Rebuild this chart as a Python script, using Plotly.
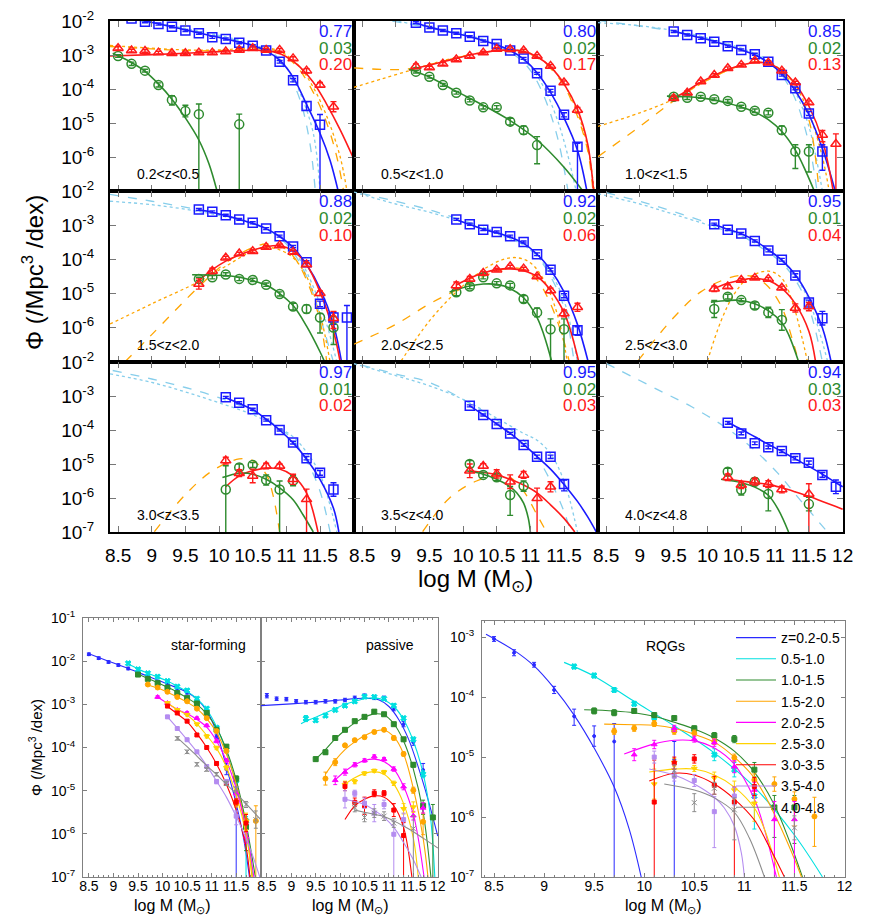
import plotly.graph_objects as go

FONT = "Liberation Sans, Arial, Helvetica, sans-serif"
W, H = 872, 922
OFF = 8                      # default page margin of the HTML body
FW, FH = W - OFF, H - OFF    # figure size so that it fills the window exactly


def px(x):
    return (x - OFF) / FW


def py(y):
    return 1 - (y - OFF) / FH


BLUE = "#1a1aff"
GREEN = "#2e8b2e"
RED = "#ff1a1a"
LBLUE = "#87ceeb"
ORANGE = "#ffa500"
Z_COLORS = ["#2a2aff", "#00e0e0", "#2e8b2e", "#ffa500", "#ff00ff", "#ffd200", "#ff0000", "#b48cf0", "#8c8c8c"]
Z_SYMBOLS = ["circle", "x", "square", "circle", "triangle-up", "triangle-down", "square", "square", "x-thin-open"]
Z_SIZES = [3, 5, 5, 5, 5, 5, 4, 4, 5]

# ======================= DATA (log10 Phi / Mpc^-3 dex^-1) =======================
# ---- panel 1 : 0.2<z<0.5 ----
sf_m_1 = [8.5, 8.7, 8.9, 9.1, 9.3, 9.5, 9.7, 9.9, 10.1, 10.3, 10.5, 10.7, 10.9, 11.1, 11.3, 11.5]
sf_1 = [-1.84, -1.93, -2.02, -2.09, -2.17, -2.28, -2.36, -2.48, -2.53, -2.64, -2.73, -2.87, -3.20, -3.74, -4.50, -5.05]
sf_e_1 = [.03, .03, .03, .03, .03, .03, .03, .03, .03, .03, .03, .03, .04, .05, .13, [.3, 5]]
q_m_1 = [8.5, 8.7, 8.9, 9.1, 9.3, 9.5, 9.7, 9.9, 10.1, 10.3, 10.5, 10.7, 10.9, 11.1, 11.3, 11.5, 11.7]
q_1 = [-2.80, -2.87, -2.88, -2.93, -2.95, -2.95, -2.93, -2.93, -2.90, -2.85, -2.80, -2.85, -2.85, -3.10, -3.46, -3.88, -4.52]
q_e_1 = [.05, .04, .04, .04, .04, .04, .04, .04, .04, .04, .04, .04, .04, .05, .06, .07, .15]
r_m_1 = [8.5, 8.7, 8.9, 9.1, 9.3, 9.5, 9.7, 10.3]
r_1 = [-3.03, -3.26, -3.46, -3.88, -4.32, -4.65, -4.74, -5.04]
r_e_1 = [.04, .05, .04, .06, [.12, .15], .17, [.3, 5], [.3, 5]]
sf_fm_1 = [8.5, 8.9, 9.3, 9.7, 10.1, 10.5, 10.7, 10.9, 11.1, 11.3, 11.5, 11.65, 11.77]
sf_f_1 = [-1.83, -2.0, -2.17, -2.35, -2.53, -2.72, -2.88, -3.15, -3.65, -4.45, -5.3, -6.1, -7.0]
q_fm_1 = [8.38, 9.0, 9.5, 10.0, 10.5, 10.8, 11.0, 11.2, 11.4, 11.6, 11.8, 12.0]
q_f_1 = [-3.03, -2.99, -2.95, -2.9, -2.86, -2.9, -3.05, -3.35, -3.8, -4.45, -5.2, -6.05]
r_fm_1 = [8.42, 8.7, 8.9, 9.1, 9.3, 9.5, 9.7, 9.85, 9.97]
r_f_1 = [-2.95, -3.22, -3.48, -3.85, -4.3, -4.85, -5.5, -6.2, -7.0]
lbd_m_1 = [8.85, 9.5, 10.0, 10.5, 10.8, 11.0, 11.2, 11.35, 11.43]
lbd_1 = [-2.0, -2.25, -2.45, -2.7, -3.0, -3.45, -4.3, -5.6, -7.0]
lbo_m_1 = [8.85, 9.5, 10.0, 10.5, 10.8, 11.0, 11.2, 11.4, 11.5]
lbo_1 = [-1.97, -2.22, -2.42, -2.68, -2.95, -3.35, -4.1, -5.3, -7.0]
ord_m_1 = [8.38, 9.0, 9.5, 10.0, 10.5, 10.8, 11.0, 11.2, 11.4, 11.6, 11.75, 11.85]
ord_1 = [-2.75, -2.82, -2.87, -2.87, -2.82, -2.85, -3.05, -3.45, -4.1, -5.0, -6.0, -7.0]
oro_m_1 = [8.38, 9.0, 9.5, 10.0, 10.5, 10.8, 11.0, 11.2, 11.4, 11.6, 11.8, 11.9]
oro_1 = [-2.72, -2.8, -2.85, -2.85, -2.8, -2.82, -3.0, -3.35, -3.95, -4.8, -6.0, -7.0]

# ---- panel 2 : 0.5<z<1.0 ----
sf_m_2 = [9.3, 9.5, 9.7, 9.9, 10.1, 10.3, 10.5, 10.7, 10.9, 11.1, 11.3, 11.5, 11.7]
sf_2 = [-2.05, -2.19, -2.28, -2.36, -2.46, -2.59, -2.68, -2.87, -3.10, -3.54, -4.05, -4.76, -5.70]
sf_e_2 = [.03, .03, .03, .03, .03, .03, .03, .03, .03, .03, .04, .06, [.1, 5]]
q_m_2 = [9.3, 9.5, 9.7, 9.9, 10.1, 10.3, 10.5, 10.7, 10.9, 11.1, 11.3, 11.5, 11.7]
q_2 = [-3.33, -3.37, -3.26, -3.13, -3.03, -2.93, -2.82, -2.83, -2.87, -3.03, -3.32, -3.81, -4.62]
q_e_2 = [.07, .04, .04, .04, .04, .04, .04, .04, .04, .04, .04, .05, .08]
r_m_2 = [9.3, 9.5, 9.7, 9.9, 10.1, 10.3, 10.5, 10.7, 10.9, 11.1]
r_2 = [-3.49, -3.64, -3.88, -4.11, -4.34, -4.54, -4.54, -4.96, -5.21, -5.65]
r_e_2 = [.04, .04, .04, .04, .04, .05, .05, .1, .12, [.25, .55]]
sf_fm_2 = [9.3, 9.5, 9.7, 9.9, 10.1, 10.3, 10.5, 10.7, 10.9, 11.1, 11.3, 11.5, 11.7, 11.84]
sf_f_2 = [-2.06, -2.18, -2.28, -2.37, -2.46, -2.58, -2.70, -2.87, -3.12, -3.52, -4.1, -4.85, -5.8, -7.0]
q_fm_2 = [9.2, 9.3, 9.5, 9.7, 9.9, 10.1, 10.3, 10.5, 10.7, 10.9, 11.1, 11.3, 11.5, 11.7, 11.85, 11.94]
q_f_2 = [-3.45, -3.39, -3.3, -3.2, -3.1, -3.0, -2.93, -2.87, -2.85, -2.9, -3.05, -3.35, -3.85, -4.6, -5.6, -7.0]
r_fm_2 = [9.2, 9.5, 9.9, 10.3, 10.7, 11.1, 11.5, 11.78]
r_f_2 = [-3.42, -3.65, -4.07, -4.48, -4.93, -5.5, -6.3, -7.0]
lbd_m_2 = [8.95, 9.5, 10.0, 10.5, 10.8, 11.0, 11.2, 11.4, 11.56]
lbd_2 = [-2.0, -2.2, -2.4, -2.72, -3.05, -3.45, -4.2, -5.4, -7.0]
lbo_m_2 = [8.95, 9.5, 10.0, 10.5, 10.8, 11.0, 11.2, 11.4, 11.55, 11.68]
lbo_2 = [-1.98, -2.18, -2.38, -2.68, -3.0, -3.35, -3.95, -4.9, -5.9, -7.0]
ord_m_2 = [8.38, 9.0, 9.3, 9.7, 10.1, 10.5, 10.7, 10.9, 11.1, 11.3, 11.5, 11.7, 11.85, 11.93]
ord_2 = [-3.38, -3.43, -3.38, -3.18, -3.0, -2.88, -2.86, -2.9, -3.08, -3.4, -3.9, -4.8, -5.8, -7.0]
oro_m_2 = [8.38, 8.8, 9.3, 9.7, 10.1, 10.5, 10.7, 10.9, 11.1, 11.3, 11.5, 11.7, 11.85, 11.95]
oro_2 = [-3.95, -3.7, -3.4, -3.17, -2.99, -2.87, -2.85, -2.88, -3.05, -3.35, -3.85, -4.7, -5.7, -7.0]

# ---- panel 3 : 1.0<z<1.5 ----
sf_m_3 = [9.5, 9.7, 9.9, 10.1, 10.3, 10.5, 10.7, 10.9, 11.1, 11.3, 11.5, 11.7]
sf_3 = [-2.31, -2.41, -2.51, -2.61, -2.74, -2.85, -2.98, -3.20, -3.59, -3.98, -4.72, -5.84]
sf_e_3 = [.03, .03, .03, .03, .03, .03, .03, .03, .03, .04, .06, [.2, .55]]
q_m_3 = [9.5, 9.7, 9.9, 10.1, 10.3, 10.5, 10.7, 10.9, 11.1, 11.3, 11.5, 11.7, 11.9]
q_3 = [-4.27, -4.11, -3.78, -3.59, -3.39, -3.29, -3.17, -3.23, -3.46, -3.81, -4.40, -5.35, -5.62]
q_e_3 = [.05, .05, .04, .04, .04, .04, .04, .04, .04, .04, .05, [.13, .2], [.3, 5]]
r_m_3 = [9.5, 9.7, 9.9, 10.1, 10.3, 10.5, 10.7, 10.9, 11.1, 11.3, 11.5]
r_3 = [-4.23, -4.26, -4.23, -4.30, -4.35, -4.52, -4.64, -4.70, -5.21, -5.84, -5.84]
r_e_3 = [.05, .05, .04, .04, .04, .04, .05, .06, .12, [.2, .5], [.2, .6]]
sf_fm_3 = [9.5, 9.7, 9.9, 10.1, 10.3, 10.5, 10.7, 10.9, 11.1, 11.3, 11.5, 11.7, 11.89]
sf_f_3 = [-2.3, -2.4, -2.5, -2.6, -2.72, -2.85, -3.0, -3.22, -3.55, -4.05, -4.75, -5.75, -7.0]
q_fm_3 = [9.5, 9.7, 9.9, 10.1, 10.3, 10.5, 10.7, 10.9, 11.1, 11.3, 11.5, 11.7, 11.86]
q_f_3 = [-4.27, -4.05, -3.8, -3.6, -3.43, -3.3, -3.22, -3.25, -3.45, -3.85, -4.5, -5.5, -7.0]
r_fm_3 = [9.4, 9.7, 9.9, 10.1, 10.3, 10.5, 10.7, 10.9, 11.1, 11.3, 11.45, 11.58]
r_f_3 = [-4.21, -4.23, -4.26, -4.32, -4.42, -4.53, -4.68, -4.9, -5.25, -5.8, -6.4, -7.0]
lbd_m_3 = [8.38, 9.0, 9.5, 10.0, 10.5, 10.9, 11.1, 11.3, 11.5, 11.62]
lbd_3 = [-1.98, -2.15, -2.3, -2.52, -2.82, -3.2, -3.6, -4.3, -5.6, -7.0]
lbo_m_3 = [8.38, 9.0, 9.5, 10.0, 10.5, 10.9, 11.1, 11.3, 11.5, 11.7]
lbo_3 = [-2.05, -2.14, -2.28, -2.5, -2.8, -3.15, -3.5, -4.1, -5.1, -7.0]
ord_m_3 = [8.38, 9.0, 9.5, 9.9, 10.3, 10.7, 10.9, 11.1, 11.3, 11.5, 11.65]
ord_3 = [-5.99, -5.1, -4.35, -3.85, -3.45, -3.2, -3.25, -3.5, -4.0, -4.9, -7.0]
oro_m_3 = [8.38, 9.0, 9.5, 9.9, 10.3, 10.7, 10.9, 11.1, 11.3, 11.5, 11.7, 11.8]
oro_3 = [-5.1, -4.7, -4.3, -3.85, -3.45, -3.22, -3.25, -3.45, -3.9, -4.7, -6.0, -7.0]

# ---- panel 4 : 1.5<z<2.0 ----
sf_m_4 = [9.7, 9.9, 10.1, 10.3, 10.5, 10.7, 10.9, 11.1, 11.3, 11.5, 11.7, 11.9]
sf_4 = [-2.54, -2.61, -2.71, -2.83, -2.93, -3.10, -3.32, -3.62, -4.08, -5.30, -5.70, -5.70]
sf_e_4 = [.03, .03, .03, .03, .03, .03, .03, .03, .04, .08, [.15, .2], [.35, 5]]
q_m_4 = [9.7, 9.9, 10.1, 10.3, 10.5, 10.7, 10.9, 11.1, 11.3, 11.5, 11.7]
q_4 = [-4.72, -4.34, -3.95, -3.83, -3.76, -3.64, -3.59, -3.78, -4.15, -4.99, -5.72]
q_e_4 = [.15, .08, .04, .04, .04, .04, .04, .05, .05, .07, [.2, .3]]
r_m_4 = [9.7, 9.9, 10.1, 10.3, 10.5, 10.7, 10.9, 11.1, 11.3, 11.5, 11.7]
r_4 = [-4.57, -4.52, -4.44, -4.57, -4.60, -4.74, -5.01, -5.38, -5.45, -5.70, -5.99]
r_e_4 = [.05, .05, .05, .05, .05, .05, .06, .1, .12, [.12, .45], [.32, .5]]
sf_fm_4 = [9.7, 9.9, 10.1, 10.3, 10.5, 10.7, 10.9, 11.1, 11.3, 11.5, 11.7, 11.82]
sf_f_4 = [-2.55, -2.62, -2.72, -2.83, -2.95, -3.1, -3.33, -3.65, -4.15, -4.85, -5.9, -7.0]
q_fm_4 = [9.7, 9.9, 10.1, 10.3, 10.5, 10.7, 10.9, 11.1, 11.3, 11.5, 11.7, 11.8]
q_f_4 = [-4.62, -4.3, -4.05, -3.87, -3.73, -3.63, -3.6, -3.75, -4.15, -4.95, -6.1, -7.0]
r_fm_4 = [9.6, 9.9, 10.1, 10.3, 10.5, 10.7, 10.9, 11.1, 11.3, 11.5, 11.57]
r_f_4 = [-4.45, -4.46, -4.47, -4.52, -4.62, -4.75, -5.0, -5.35, -5.95, -6.7, -7.0]
lbd_m_4 = [8.38, 9.0, 9.7, 10.3, 10.7, 11.0, 11.2, 11.4, 11.55, 11.7]
lbd_4 = [-2.1, -2.3, -2.55, -2.83, -3.1, -3.55, -4.1, -5.0, -6.0, -7.0]
lbo_m_4 = [8.38, 9.0, 9.7, 10.3, 10.7, 11.0, 11.2, 11.4, 11.6, 11.75]
lbo_4 = [-2.3, -2.4, -2.6, -2.85, -3.12, -3.5, -4.0, -4.8, -5.9, -7.0]
ord_m_4 = [8.6, 9.0, 9.7, 10.1, 10.5, 10.7, 10.9, 11.1, 11.3, 11.5, 11.6]
ord_4 = [-7.0, -6.2, -4.8, -4.1, -3.65, -3.55, -3.6, -3.9, -4.6, -5.8, -7.0]
oro_m_4 = [8.38, 9.0, 9.7, 10.1, 10.5, 10.7, 10.9, 11.1, 11.3, 11.5, 11.65]
oro_4 = [-5.89, -5.3, -4.65, -4.2, -3.75, -3.65, -3.72, -3.95, -4.5, -5.6, -7.0]

# ---- panel 5 : 2.0<z<2.5 ----
sf_m_5 = [9.9, 10.1, 10.3, 10.5, 10.7, 10.9, 11.1, 11.3, 11.5, 11.7]
sf_5 = [-2.83, -2.97, -3.13, -3.20, -3.32, -3.49, -3.85, -4.30, -5.06, -6.07]
sf_e_5 = [.03, .03, .03, .03, .03, .03, .04, .04, .06, [.1, .15]]
q_m_5 = [9.9, 10.1, 10.3, 10.5, 10.7, 10.9, 11.1, 11.3, 11.5, 11.7]
q_5 = [-4.76, -4.57, -4.40, -4.30, -4.21, -4.27, -4.50, -4.91, -5.58, -5.40]
q_e_5 = [.1, .07, .05, .04, .04, .04, .05, .07, .1, .12]
r_m_5 = [9.9, 10.1, 10.3, 10.5, 10.7, 10.9, 11.1, 11.3, 11.5]
r_5 = [-4.96, -4.79, -4.52, -4.70, -4.76, -5.16, -5.55, -6.04, -6.04]
r_e_5 = [.1, .07, .05, .05, .06, .1, .13, [.3, 5], [.3, 5]]
sf_fm_5 = [9.9, 10.1, 10.3, 10.5, 10.7, 10.9, 11.1, 11.3, 11.5, 11.7, 11.86]
sf_f_5 = [-2.83, -2.98, -3.12, -3.22, -3.35, -3.53, -3.85, -4.3, -4.95, -5.9, -7.0]
q_fm_5 = [9.9, 10.1, 10.3, 10.5, 10.7, 10.9, 11.1, 11.3, 11.5, 11.6, 11.72]
q_f_5 = [-4.75, -4.55, -4.4, -4.3, -4.27, -4.33, -4.5, -4.9, -5.55, -6.1, -7.0]
r_fm_5 = [9.8, 10.1, 10.3, 10.5, 10.7, 10.9, 11.1, 11.2, 11.32]
r_f_5 = [-4.95, -4.78, -4.72, -4.73, -4.85, -5.12, -5.7, -6.2, -7.0]
lbd_m_5 = [8.49, 9.0, 9.5, 9.9, 10.5, 10.9, 11.1, 11.3, 11.5, 11.65]
lbd_5 = [-2.07, -2.3, -2.55, -2.8, -3.2, -3.55, -3.9, -4.5, -5.4, -7.0]
lbo_m_5 = [8.38, 9.0, 9.5, 9.9, 10.5, 10.9, 11.1, 11.3, 11.5, 11.7]
lbo_5 = [-2.03, -2.38, -2.62, -2.85, -3.25, -3.58, -3.9, -4.4, -5.2, -7.0]
ord_m_5 = [8.38, 9.0, 9.5, 9.9, 10.3, 10.7, 10.9, 11.1, 11.3, 11.5, 11.58]
ord_5 = [-6.48, -5.9, -5.3, -4.9, -4.5, -4.25, -4.3, -4.6, -5.3, -6.4, -7.0]
oro_m_5 = [9.08, 9.5, 9.9, 10.3, 10.6, 10.8, 11.0, 11.2, 11.4, 11.55]
oro_5 = [-6.97, -5.8, -4.95, -4.3, -4.0, -3.95, -4.1, -4.6, -5.6, -7.0]

# ---- panel 6 : 2.5<z<3.0 ----
sf_m_6 = [10.1, 10.3, 10.5, 10.7, 10.9, 11.1, 11.3, 11.5, 11.7]
sf_6 = [-2.97, -3.13, -3.24, -3.46, -3.74, -4.01, -4.47, -5.26, -5.72]
sf_e_6 = [.03, .03, .03, .03, .04, .04, .05, .07, .2]
q_m_6 = [10.1, 10.3, 10.5, 10.7, 10.9, 11.1, 11.3, 11.5]
q_6 = [-4.86, -4.79, -4.60, -4.54, -4.57, -4.83, -5.42, -5.38]
q_e_6 = [.08, .05, .04, .04, .04, .05, .12, .12]
r_m_6 = [10.1, 10.3, 10.5, 10.7, 10.9, 11.1]
r_6 = [-5.45, -5.09, -5.19, -5.35, -5.55, -5.77]
r_e_6 = [.25, .07, .05, .1, .15, .3]
sf_fm_6 = [10.1, 10.3, 10.5, 10.7, 10.9, 11.1, 11.3, 11.5, 11.7, 11.83]
sf_f_6 = [-2.97, -3.12, -3.25, -3.45, -3.72, -4.02, -4.45, -5.1, -6.0, -7.0]
q_fm_6 = [10.1, 10.3, 10.5, 10.7, 10.9, 11.1, 11.3, 11.5, 11.6]
q_f_6 = [-4.85, -4.7, -4.6, -4.56, -4.62, -4.85, -5.3, -6.1, -7.0]
r_fm_6 = [10.05, 10.3, 10.5, 10.7, 10.9, 11.1, 11.2, 11.35]
r_f_6 = [-5.25, -5.2, -5.2, -5.3, -5.5, -5.85, -6.2, -7.0]
lbd_m_6 = [8.5, 9.0, 9.5, 10.1, 10.5, 10.9, 11.1, 11.3, 11.5, 11.7]
lbd_6 = [-2.05, -2.3, -2.6, -3.0, -3.3, -3.8, -4.1, -4.6, -5.4, -7.0]
lbo_m_6 = [8.38, 9.0, 9.5, 10.1, 10.5, 10.9, 11.1, 11.3, 11.5, 11.78]
lbo_6 = [-2.08, -2.38, -2.68, -3.05, -3.32, -3.75, -4.05, -4.5, -5.2, -7.0]
ord_m_6 = [8.97, 9.5, 9.9, 10.3, 10.5, 10.7, 10.9, 11.1, 11.25, 11.35]
ord_6 = [-6.97, -5.7, -4.95, -4.55, -4.47, -4.52, -4.8, -5.4, -6.3, -7.0]
oro_m_6 = [10.0, 10.2, 10.4, 10.6, 10.9, 11.1, 11.25, 11.4, 11.48]
oro_6 = [-6.97, -5.8, -5.0, -4.55, -4.34, -4.55, -5.2, -6.3, -7.0]

# ---- panel 7 : 3.0<z<3.5 ----
sf_m_7 = [10.1, 10.3, 10.5, 10.7, 10.9, 11.1, 11.3, 11.5, 11.7]
sf_7 = [-3.04, -3.20, -3.39, -3.71, -4.00, -4.37, -4.83, -5.26, -5.75]
sf_e_7 = [.03, .03, .03, .03, .03, .04, .05, .07, .2]
q_m_7 = [10.1, 10.3, 10.5, 10.7, 10.9, 11.1, 11.3]
q_7 = [-4.90, -5.27, -5.35, -5.06, -5.06, -5.45, -6.04]
q_e_7 = [.1, .1, .2, .08, .06, .15, [.3, 5]]
r_m_7 = [10.1, 10.3, 10.5, 10.7, 10.9, 11.1]
r_7 = [-5.75, -5.10, -5.03, -5.47, -5.75, -5.49]
r_e_7 = [[.7, 5], .1, .07, .15, [.25, 5], .15]
sf_fm_7 = [10.1, 10.3, 10.5, 10.7, 10.9, 11.1, 11.3, 11.5, 11.7, 11.78]
sf_f_7 = [-3.05, -3.22, -3.4, -3.68, -4.0, -4.38, -4.85, -5.45, -6.3, -7.0]
q_fm_7 = [10.1, 10.3, 10.5, 10.7, 10.9, 11.1, 11.3, 11.47]
q_f_7 = [-5.67, -5.35, -5.2, -5.12, -5.15, -5.35, -5.85, -7.0]
r_fm_7 = [10.05, 10.3, 10.5, 10.7, 10.9, 11.1, 11.25, 11.4]
r_f_7 = [-5.4, -5.27, -5.3, -5.45, -5.7, -6.05, -6.5, -7.0]
lbd_m_7 = [8.42, 9.0, 9.5, 10.0, 10.5, 10.9, 11.1, 11.3, 11.5, 11.65]
lbd_7 = [-2.25, -2.5, -2.75, -3.05, -3.45, -3.95, -4.3, -4.9, -5.8, -7.0]
lbo_m_7 = [8.38, 9.0, 9.5, 10.0, 10.5, 10.9, 11.1, 11.3, 11.5, 11.75]
lbo_7 = [-2.35, -2.6, -2.88, -3.2, -3.55, -3.95, -4.2, -4.65, -5.3, -7.0]
ord_m_7 = [9.04, 9.5, 9.9, 10.3, 10.5, 10.7, 10.8, 10.9]
ord_7 = [-6.99, -5.9, -5.2, -4.85, -4.9, -5.3, -5.9, -7.0]

# ---- panel 8 : 3.5<z<4.0 ----
sf_m_8 = [10.1, 10.3, 10.5, 10.7, 10.9, 11.1, 11.3, 11.5]
sf_8 = [-3.29, -3.56, -3.82, -4.10, -4.44, -4.79, -4.79, -5.59]
sf_e_8 = [.03, .03, .03, .03, .04, .05, .05, [.12, .2]]
q_m_8 = [10.1, 10.3, 10.5, 10.7, 10.9, 11.1, 11.3]
q_8 = [-5.20, -5.06, -5.29, -5.52, -5.32, -6.01, -5.67]
q_e_8 = [.2, .07, .12, .2, .1, [.3, 5], .15]
r_m_8 = [10.1, 10.3, 10.5, 10.7, 10.9]
r_8 = [-5.00, -5.32, -5.39, -5.91, -5.65]
r_e_8 = [.1, .08, .1, [.25, .6], .15]
sf_fm_8 = [10.1, 10.3, 10.5, 10.7, 10.9, 11.1, 11.3, 11.5, 11.7, 11.85, 11.98]
sf_f_8 = [-3.29, -3.55, -3.82, -4.1, -4.42, -4.78, -5.15, -5.6, -6.1, -6.55, -7.0]
q_fm_8 = [10.1, 10.3, 10.5, 10.7, 10.9, 11.1, 11.3, 11.5, 11.66]
q_f_8 = [-5.2, -5.25, -5.32, -5.45, -5.62, -5.85, -6.2, -6.6, -7.0]
r_fm_8 = [10.05, 10.3, 10.5, 10.7, 10.8, 10.9, 10.97, 11.0]
r_f_8 = [-5.2, -5.3, -5.45, -5.67, -5.85, -6.15, -6.6, -7.0]
lbd_m_8 = [8.49, 9.0, 9.5, 10.0, 10.5, 10.9, 11.1, 11.3, 11.5, 11.6]
lbd_8 = [-2.09, -2.35, -2.6, -3.1, -3.7, -4.3, -4.8, -5.5, -6.4, -7.0]
lbo_m_8 = [8.38, 9.0, 9.5, 10.0, 10.5, 10.9, 11.1, 11.3, 11.5, 11.7]
lbo_8 = [-2.05, -2.4, -2.7, -3.1, -3.65, -4.1, -4.3, -4.7, -5.5, -7.0]
ord_m_8 = [9.4, 9.8, 10.2, 10.5, 10.7, 10.9, 11.1, 11.24]
ord_8 = [-6.99, -6.0, -5.5, -5.35, -5.4, -5.8, -6.5, -7.0]

# ---- panel 9 : 4.0<z<4.8 ----
sf_m_9 = [10.3, 10.5, 10.7, 10.9, 11.1, 11.3, 11.5, 11.7, 11.9]
sf_9 = [-3.79, -4.10, -4.39, -4.51, -4.62, -4.83, -4.96, -5.32, -5.67]
sf_e_9 = [.04, .04, .04, .04, .04, .05, .05, .07, .2]
q_m_9 = [10.3, 10.5, 10.7, 10.9, 11.1, 11.5]
q_9 = [-5.39, -5.62, -5.52, -5.59, -5.75, -5.88]
q_e_9 = [.1, .1, .1, .1, .1, [.3, 5]]
r_m_9 = [10.3, 10.5, 10.7, 10.9, 11.5]
r_9 = [-5.23, -5.76, -5.52, -5.88, -6.18]
r_e_9 = [.1, .15, .1, [.2, .5], .2]
sf_fm_9 = [10.3, 10.5, 10.7, 10.9, 11.1, 11.3, 11.5, 11.7, 11.9, 12.0]
sf_f_9 = [-3.77, -3.98, -4.2, -4.42, -4.63, -4.85, -5.07, -5.3, -5.55, -5.67]
q_fm_9 = [10.3, 10.5, 10.7, 10.9, 11.1, 11.3, 11.5, 11.7, 11.9, 12.0]
q_f_9 = [-5.45, -5.5, -5.55, -5.6, -5.7, -5.82, -5.95, -6.1, -6.25, -6.33]
r_fm_9 = [10.2, 10.5, 10.7, 10.9, 11.05, 11.2]
r_f_9 = [-5.45, -5.55, -5.68, -5.92, -6.35, -7.0]
lbd_m_9 = [8.5, 9.27, 9.76, 10.25, 10.64, 11.04, 11.33, 11.77]
lbd_9 = [-2.04, -2.82, -3.31, -3.90, -4.49, -5.27, -5.96, -6.99]

# ---- text ----
z_labels = ["0.2<z<0.5", "0.5<z<1.0", "1.0<z<1.5", "1.5<z<2.0", "2.0<z<2.5",
            "2.5<z<3.0", "3.0<z<3.5", "3.5<z<4.0", "4.0<z<4.8"]
legend_names = ["z=0.2-0.5", "0.5-1.0", "1.0-1.5", "1.5-2.0", "2.0-2.5",
                "2.5-3.0", "3.0-3.5", "3.5-4.0", "4.0-4.8"]
frac_sf = ["0.77", "0.80", "0.85", "0.88", "0.92", "0.95", "0.97", "0.95", "0.94"]
frac_rqg = ["0.03", "0.02", "0.02", "0.02", "0.02", "0.01", "0.01", "0.02", "0.03"]
frac_q = ["0.20", "0.17", "0.13", "0.10", "0.06", "0.04", "0.02", "0.03", "0.03"]
x_ticks = [8.5, 9, 9.5, 10, 10.5, 11, 11.5]
x_ticks_end = [8.5, 9, 9.5, 10, 10.5, 11, 11.5, 12]

# ---- tables built from the named lists ----
SF_M = [sf_m_1, sf_m_2, sf_m_3, sf_m_4, sf_m_5, sf_m_6, sf_m_7, sf_m_8, sf_m_9]
SF = [sf_1, sf_2, sf_3, sf_4, sf_5, sf_6, sf_7, sf_8, sf_9]
SF_E = [sf_e_1, sf_e_2, sf_e_3, sf_e_4, sf_e_5, sf_e_6, sf_e_7, sf_e_8, sf_e_9]
Q_M = [q_m_1, q_m_2, q_m_3, q_m_4, q_m_5, q_m_6, q_m_7, q_m_8, q_m_9]
Q = [q_1, q_2, q_3, q_4, q_5, q_6, q_7, q_8, q_9]
Q_E = [q_e_1, q_e_2, q_e_3, q_e_4, q_e_5, q_e_6, q_e_7, q_e_8, q_e_9]
R_M = [r_m_1, r_m_2, r_m_3, r_m_4, r_m_5, r_m_6, r_m_7, r_m_8, r_m_9]
R = [r_1, r_2, r_3, r_4, r_5, r_6, r_7, r_8, r_9]
R_E = [r_e_1, r_e_2, r_e_3, r_e_4, r_e_5, r_e_6, r_e_7, r_e_8, r_e_9]
SF_FM = [sf_fm_1, sf_fm_2, sf_fm_3, sf_fm_4, sf_fm_5, sf_fm_6, sf_fm_7, sf_fm_8, sf_fm_9]
SF_F = [sf_f_1, sf_f_2, sf_f_3, sf_f_4, sf_f_5, sf_f_6, sf_f_7, sf_f_8, sf_f_9]
Q_FM = [q_fm_1, q_fm_2, q_fm_3, q_fm_4, q_fm_5, q_fm_6, q_fm_7, q_fm_8, q_fm_9]
Q_F = [q_f_1, q_f_2, q_f_3, q_f_4, q_f_5, q_f_6, q_f_7, q_f_8, q_f_9]
R_FM = [r_fm_1, r_fm_2, r_fm_3, r_fm_4, r_fm_5, r_fm_6, r_fm_7, r_fm_8, r_fm_9]
R_F = [r_f_1, r_f_2, r_f_3, r_f_4, r_f_5, r_f_6, r_f_7, r_f_8, r_f_9]
LBD = [(lbd_m_1, lbd_1), (lbd_m_2, lbd_2), (lbd_m_3, lbd_3), (lbd_m_4, lbd_4), (lbd_m_5, lbd_5),
       (lbd_m_6, lbd_6), (lbd_m_7, lbd_7), (lbd_m_8, lbd_8), (lbd_m_9, lbd_9)]
LBO = [(lbo_m_1, lbo_1), (lbo_m_2, lbo_2), (lbo_m_3, lbo_3), (lbo_m_4, lbo_4), (lbo_m_5, lbo_5),
       (lbo_m_6, lbo_6), (lbo_m_7, lbo_7), (lbo_m_8, lbo_8), None]
ORD = [(ord_m_1, ord_1), (ord_m_2, ord_2), (ord_m_3, ord_3), (ord_m_4, ord_4), (ord_m_5, ord_5),
       (ord_m_6, ord_6), (ord_m_7, ord_7), (ord_m_8, ord_8), None]
ORO = [(oro_m_1, oro_1), (oro_m_2, oro_2), (oro_m_3, oro_3), (oro_m_4, oro_4), (oro_m_5, oro_5),
       (oro_m_6, oro_6), None, None, None]


def pw(v):
    return [10.0 ** x for x in v]


def errs(v, e):
    up, lo = [], []
    for x, ee in zip(v, e):
        if isinstance(ee, (list, tuple)):
            eu, el = ee
        else:
            eu = el = ee
        up.append(10.0 ** (x + eu) - 10.0 ** x)
        lo.append(10.0 ** x - 10.0 ** (x - el))
    return up, lo


def refs(i):
    return ("x" if i == 1 else f"x{i}"), ("y" if i == 1 else f"y{i}")


fig = go.Figure()

# ======================= top 3x3 grid =======================
for k in range(9):
    i = k + 1
    xa, ya = refs(i)
    for item, col, dash in [(LBD[k], LBLUE, "dash"), (LBO[k], LBLUE, "dot"),
                            (ORD[k], ORANGE, "dash"), (ORO[k], ORANGE, "dot")]:
        if item is None:
            continue
        fig.add_trace(go.Scatter(x=item[0], y=pw(item[1]), mode="lines", xaxis=xa, yaxis=ya,
                                 line=dict(color=col, width=1.3, dash=dash, shape="spline"),
                                 showlegend=False, hoverinfo="skip"))
    for fm, fv, col in [(SF_FM[k], SF_F[k], BLUE), (Q_FM[k], Q_F[k], RED), (R_FM[k], R_F[k], GREEN)]:
        fig.add_trace(go.Scatter(x=fm, y=pw(fv), mode="lines", xaxis=xa, yaxis=ya,
                                 line=dict(color=col, width=1.6, shape="spline"),
                                 showlegend=False, hoverinfo="skip"))
    for mm, vv, ee, col, sym in [(SF_M[k], SF[k], SF_E[k], BLUE, "square-open"),
                                 (R_M[k], R[k], R_E[k], GREEN, "circle-open"),
                                 (Q_M[k], Q[k], Q_E[k], RED, "triangle-up-open")]:
        up, lo = errs(vv, ee)
        fig.add_trace(go.Scatter(x=mm, y=pw(vv), mode="markers", xaxis=xa, yaxis=ya,
                                 marker=dict(symbol=sym, size=9, color=col, line=dict(color=col, width=1.5)),
                                 error_y=dict(type="data", symmetric=False, array=up, arrayminus=lo,
                                              color=col, thickness=1.4, width=3),
                                 showlegend=False, hoverinfo="skip"))

# ======================= bottom panels =======================
for k in range(9):
    col = Z_COLORS[k]
    sym = Z_SYMBOLS[k]
    for axi, fm, fv, mm, vv, ee, leg in [(10, SF_FM[k], SF_F[k], SF_M[k], SF[k], SF_E[k], False),
                                         (11, Q_FM[k], Q_F[k], Q_M[k], Q[k], Q_E[k], False),
                                         (12, R_FM[k], R_F[k], R_M[k], R[k], R_E[k], True)]:
        xa, ya = refs(axi)
        fig.add_trace(go.Scatter(x=fm, y=pw(fv), mode="lines", xaxis=xa, yaxis=ya,
                                 line=dict(color=col, width=1.1, shape="spline"),
                                 name=legend_names[k], showlegend=leg, hoverinfo="skip"))
        up, lo = errs(vv, ee)
        fig.add_trace(go.Scatter(x=mm, y=pw(vv), mode="markers", xaxis=xa, yaxis=ya,
                                 marker=dict(symbol=sym, size=Z_SIZES[k], color=col,
                                             line=dict(color=col, width=1)),
                                 error_y=dict(type="data", symmetric=False, array=up, arrayminus=lo,
                                              color=col, thickness=1, width=2),
                                 showlegend=False, hoverinfo="skip"))


def sup_ticks(exps):
    return [10.0 ** e for e in exps], [f"10<sup>{e}</sup>" for e in exps]


layout = dict(template="none", width=FW, height=FH,
              margin=dict(l=0, r=0, t=0, b=0, pad=0, autoexpand=False),
              paper_bgcolor="white", plot_bgcolor="white",
              font=dict(family=FONT, color="black"),
              showlegend=True,
              legend=dict(x=px(845), xanchor="right", y=py(622), yanchor="top",
                          bgcolor="rgba(0,0,0,0)", borderwidth=0,
                          font=dict(family=FONT, size=14, color="black"),
                          itemwidth=40, tracegroupgap=0))

tops = [21, 191, 362]
bots = [191, 362, 532]
for k in range(9):
    i = k + 1
    r, c = divmod(k, 3)
    xname = "xaxis" if i == 1 else f"xaxis{i}"
    yname = "yaxis" if i == 1 else f"yaxis{i}"
    xa, ya = refs(i)
    xt = x_ticks_end if c == 2 else x_ticks
    exps = [-2, -3, -4, -5, -6, -7] if r == 2 else [-2, -3, -4, -5, -6]
    yv, yt = sup_ticks(exps)
    layout[xname] = dict(domain=[px(110 + 244 * c), px(354 + 244 * c + (1 if c == 2 else 0))],
                         anchor=ya, range=[8.38, 12.005], tickvals=xt, ticktext=[f"{t:g}" for t in xt],
                         showticklabels=(r == 2), ticks="inside", ticklen=6, tickcolor="#777",
                         showline=True, linecolor="black", linewidth=2, mirror="ticks",
                         showgrid=False, zeroline=False, ticklabelstandoff=5, automargin=False,
                         ticklabeloverflow="allow",
                         tickfont=dict(family=FONT, size=19, color="black"))
    layout[yname] = dict(domain=[py(bots[r]), py(tops[r])], anchor=xa, type="log",
                         range=[-7, -2], tickvals=yv, ticktext=yt,
                         showticklabels=(c == 0), ticks="inside", ticklen=6, tickcolor="#777",
                         showline=True, linecolor="black", linewidth=2, mirror="ticks",
                         showgrid=False, zeroline=False, ticklabelstandoff=10, automargin=False,
                         ticklabeloverflow="allow",
                         tickfont=dict(family=FONT, size=19, color="black"))

GRAY = "#808080"
bottom_axes = [(10, [83, 261], [618, 877], [-7, -1], x_ticks, True),
               (11, [261, 438], [618, 877], [-7, -1], x_ticks_end, False),
               (12, [482, 845], [621, 877], [-7, -2.73], x_ticks_end, True)]
for axi, xd, yd, yr, xt, ylab in bottom_axes:
    xa, ya = refs(axi)
    exps = [-3, -4, -5, -6, -7] if axi == 12 else [-1, -2, -3, -4, -5, -6, -7]
    yv, yt = sup_ticks(exps)
    layout[f"xaxis{axi}"] = dict(domain=[px(xd[0]), px(xd[1])], anchor=ya, range=[8.38, 12.005],
                                 tickvals=xt, ticktext=[f"{t:g}" for t in xt],
                                 ticks="inside", ticklen=4, tickcolor=GRAY,
                                 minor=dict(ticks="inside", ticklen=2, tickcolor=GRAY, dtick=0.1),
                                 showline=True, linecolor=GRAY, linewidth=1, mirror="ticks",
                                 showgrid=False, zeroline=False, ticklabelstandoff=-4, automargin=False,
                                 ticklabeloverflow="allow",
                                 tickfont=dict(family=FONT, size=14, color="black"))
    layout[f"yaxis{axi}"] = dict(domain=[py(yd[1]), py(yd[0])], anchor=xa, type="log",
                                 range=yr, tickvals=yv, ticktext=yt, showticklabels=ylab,
                                 ticks="inside", ticklen=4, tickcolor=GRAY,
                                 showline=True, linecolor=GRAY, linewidth=1, mirror="ticks",
                                 showgrid=False, zeroline=False, ticklabelstandoff=4, automargin=False,
                                 ticklabeloverflow="allow",
                                 tickfont=dict(family=FONT, size=14, color="black"))

ann = []
for k in range(9):
    i = k + 1
    xd = "x domain" if i == 1 else f"x{i} domain"
    yd = "y domain" if i == 1 else f"y{i} domain"
    for txt, col, yy in [(frac_sf[k], BLUE, 10.7), (frac_rqg[k], GREEN, 27.3), (frac_q[k], RED, 44.0)]:
        ann.append(dict(text=txt, xref=xd, yref=yd, x=0.995, y=1 - yy / 170, xanchor="right",
                        yanchor="middle", showarrow=False, borderpad=0,
                        font=dict(family=FONT, size=17, color=col)))
    ann.append(dict(text=z_labels[k], xref=xd, yref=yd, x=25 / 244, y=17 / 170, xanchor="left",
                    yanchor="middle", showarrow=False, font=dict(family=FONT, size=14, color="black")))

ann.append(dict(text="Φ (/Mpc<sup>3</sup> /dex)", xref="paper", yref="paper", x=px(33), y=py(273),
                textangle=-90, showarrow=False, xanchor="center", yanchor="middle",
                font=dict(family=FONT, size=24, color="black")))
ann.append(dict(text="log M (M<sub>⊙</sub>)", xref="paper", yref="paper", x=px(476), y=py(580),
                showarrow=False, xanchor="center", yanchor="middle",
                font=dict(family=FONT, size=24, color="black")))
for txt, qx, qy in [("star-forming", 208, 645), ("passive", 390, 645), ("RQGs", 665, 646)]:
    ann.append(dict(text=txt, xref="paper", yref="paper", x=px(qx), y=py(qy), showarrow=False,
                    xanchor="center", yanchor="middle", font=dict(family=FONT, size=14, color="black")))
for qx in [172, 350, 663]:
    ann.append(dict(text="log M (M<sub>⊙</sub>)", xref="paper", yref="paper", x=px(qx), y=py(906),
                    showarrow=False, xanchor="center", yanchor="middle", borderpad=0,
                    font=dict(family=FONT, size=16, color="black")))
ann.append(dict(text="Φ (/Mpc<sup>3</sup> /dex)", xref="paper", yref="paper", x=px(35), y=py(748),
                textangle=-90, showarrow=False, xanchor="center", yanchor="middle",
                font=dict(family=FONT, size=15, color="black")))
layout["annotations"] = ann

fig.update_layout(**layout)
fig.write_html("out.html")
